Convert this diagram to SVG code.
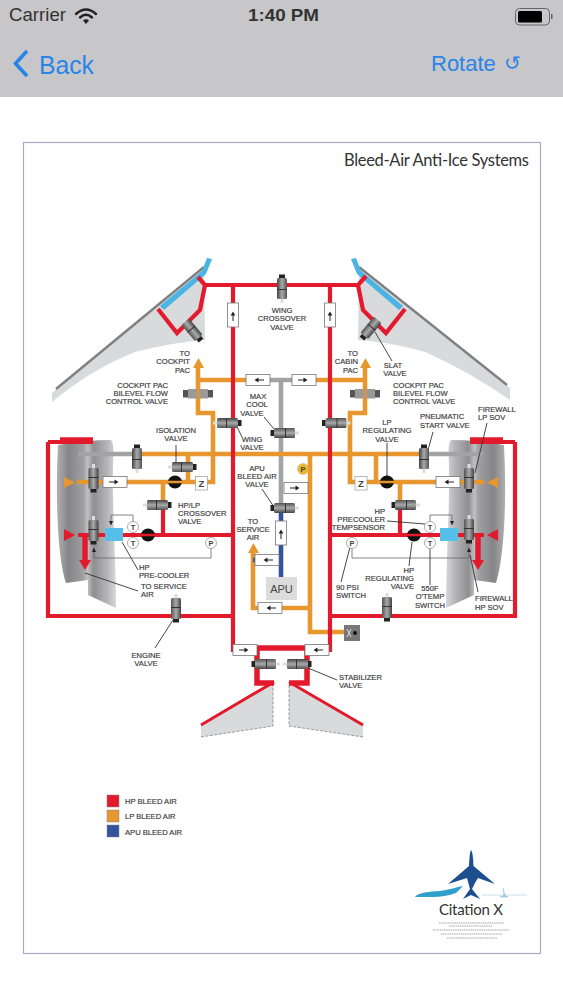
<svg xmlns="http://www.w3.org/2000/svg" xmlns:xlink="http://www.w3.org/1999/xlink" width="563" height="1000" viewBox="0 0 563 1000">
<style>
text{font-family:"Liberation Sans",Arial,sans-serif}
.l{font-size:7.6px;fill:#3c3c3c;stroke:#3c3c3c;stroke-width:.18}
.m{text-anchor:middle}.e{text-anchor:end}
.p{fill:none;stroke-linejoin:miter}
.r{stroke:#e21a2c;stroke-width:4.2}
.R{stroke:#e21a2c;stroke-width:5.5}
.o{stroke:#e8962e;stroke-width:4.6}
.g{stroke:#a3a3a5;stroke-width:4.6}
.b{stroke:#33539f;stroke-width:4.6}
.t{fill:none;stroke:#666;stroke-width:.8}
.ln{fill:none;stroke:#333;stroke-width:.9}
.ab{fill:#fff;stroke:#777;stroke-width:.8}
.circ{fill:#fff;stroke:#888;stroke-width:.7}
.wing{fill:#d9dadc}
</style>
<defs>
<linearGradient id="nac" x1="0" x2="1" y1="0" y2="0"><stop offset="0" stop-color="#b0b0b2"/><stop offset=".2" stop-color="#858587"/><stop offset=".45" stop-color="#a0a0a2"/><stop offset=".52" stop-color="#c0c0c2"/><stop offset=".62" stop-color="#8f8f91"/><stop offset=".85" stop-color="#b5b5b7"/><stop offset="1" stop-color="#d8d8d9"/></linearGradient>
<linearGradient id="nacr" x1="1" x2="0" y1="0" y2="0"><stop offset="0" stop-color="#b0b0b2"/><stop offset=".2" stop-color="#858587"/><stop offset=".45" stop-color="#a0a0a2"/><stop offset=".52" stop-color="#c0c0c2"/><stop offset=".62" stop-color="#8f8f91"/><stop offset=".85" stop-color="#b5b5b7"/><stop offset="1" stop-color="#d8d8d9"/></linearGradient>
<linearGradient id="vg" x1="0" x2="1" y1="0" y2="0"><stop offset="0" stop-color="#555"/><stop offset=".5" stop-color="#aaa"/><stop offset="1" stop-color="#444"/></linearGradient>
<g id="v">
<rect x="-1.5" y="-16" width="3" height="4" fill="#ddd"/>
<rect x="-5" y="-12" width="10" height="21" rx="1.5" fill="url(#vg)"/>
<rect x="-5" y="-3" width="10" height="1" fill="#333"/>
<rect x="-3" y="9" width="6" height="3.5" fill="#222"/>
</g>
<path id="au" d="M0 -3.5L-2.4 .5H-.5V6H.5V.5H2.4Z" fill="#222"/>
<g id="vbox"><rect class="ab" x="-5.500" y="-12" width="11" height="24"/><use xlink:href="#au"/></g>
<g id="hbox"><rect class="ab" x="-12" y="-5.500" width="24" height="11"/><use xlink:href="#au" transform="rotate(90)"/></g>
<g id="hboxl"><rect class="ab" x="-12" y="-5.500" width="24" height="11"/><use xlink:href="#au" transform="rotate(-90)"/></g>
</defs>

<g id="chrome">
<rect width="563" height="1000" fill="#fff"/>
<rect width="563" height="97" fill="#c7c6c8"/>
<text x="9" y="21" font-size="17.500" fill="#333" textLength="57" lengthAdjust="spacingAndGlyphs">Carrier</text>
<g fill="none" stroke="#222" stroke-linecap="round"><path d="M76 14Q86 5 96 14" stroke-width="2.400"/><path d="M80 17.500Q86 12 92 17.500" stroke-width="2.400"/></g><path d="M83 20.500Q86 18 89 20.500L86 24Z" fill="#222"/>
<text x="248" y="21" font-size="17" font-weight="700" fill="#333" textLength="71" lengthAdjust="spacingAndGlyphs">1:40 PM</text>
<rect x="515.500" y="8.500" width="34" height="16.500" rx="4" fill="none" stroke="#666"/><rect x="518" y="11" width="24" height="11.500" rx="1.500" fill="#000"/><rect x="551" y="14" width="1.500" height="5" fill="#666"/>
<path d="M27 51L15.500 63.500L27 76" fill="none" stroke="#2a84e8" stroke-width="3.600"/>
<text x="39" y="73.500" font-size="26" fill="#2a84e8" textLength="55" lengthAdjust="spacingAndGlyphs">Back</text>
<text x="431" y="71" font-size="22" fill="#2a84e8">Rotate</text>
<text x="504" y="70" font-size="20" fill="#2a84e8" style="font-family:'DejaVu Sans',sans-serif">↺</text>
<rect x="23.500" y="142.500" width="517" height="811" fill="#fff" stroke="#a9a9c6" stroke-width="1.200"/>
<text x="344" y="166" font-size="16.500" fill="#333" style="font-family:Lato,sans-serif" textLength="185">Bleed-Air Anti-Ice Systems</text>
</g>

<g id="wings">
<path class="wing" d="M204 267L52 393L52 402Q90 370 135 352Q175 342 205 340Z"/>
<path class="wing" d="M359 267L510 388L510 400Q470 372 425 352Q390 342 358 340Z"/>
<path d="M204 267L56 389" fill="none" stroke="#808082" stroke-width="2.400"/>
<path d="M359 267L507 385" fill="none" stroke="#808082" stroke-width="2.400"/>
<path class="wing" d="M201 725L273 682V726L201 737Z"/>
<path class="wing" d="M363 725L289 682V726L363 737Z"/>
<path d="M201 737L273 726V684M363 737L289 726V684" fill="none" stroke="#777" stroke-width=".7" stroke-dasharray="3 1.500"/>
<path d="M207 258L212 259L206 274L164 310L160 306L202 271Z" fill="#4ab4e4"/>
<path d="M356 258L351 259L357 274L399 310L403 306L361 271Z" fill="#4ab4e4"/>
</g>

<g id="nacelles">
<path d="M58 445C55 500 58 560 66 583L88 580V595L116 608C116 560 112 500 113 470C113 455 115 445 111 440Q85 440 58 445Z" fill="url(#nac)"/>
<path d="M504 445C507 500 504 560 496 583L474 580V595L446 608C446 560 450 500 449 470C449 455 447 445 451 440Q477 440 504 445Z" fill="url(#nacr)"/>
</g>

<g id="connectors" fill="none">
<path class="p r" d="M198 277L205 285L200 310L177 333L158 309"/>
<path class="p r" d="M366 276L358 285L363 310L386 333L405 309"/>
<path class="p g" d="M268 380H295M281 380V505"/>
<path class="p g" d="M78 454H137M424 454H483"/>
<path class="p o" d="M198 368V413H213V482H77"/>
<path class="p o" d="M365 368V413H350V482H484"/>
<path class="p o" d="M198 380H268M295 380H365"/>
<path class="p o" d="M137 454H424"/>
<path class="p o" d="M188 454V482M376 454V482M163 482V505M400 482V505"/>
<path class="p o" d="M310 454V632H345M310 488H296M310 608H253V553"/>
<path class="p b" d="M281 512V577M281 560H272M262 560H253"/>
<path class="p r" d="M233 285V650H257M330 285V650H306M203 285H358"/>
<path class="p r" d="M48 442V616H233M515 442V616H330"/>
<path class="p r" d="M48 442H93M515 442H470"/>
<path class="p R" d="M60 440H93M470 440H503"/>
<path class="p r" d="M163 510V535M400 510V535"/>
<path class="p r" d="M78 535H233M484 535H330"/>
<path class="p R" d="M85 535V562M478 535V562"/>
<path class="p R" d="M257 648H307M257 648V683H274M307 648V683H289"/>
<path class="p" stroke="#e21a2c" stroke-width="3" d="M201 725L274 682M363 725L289 682"/>
<path class="t" d="M133 523V515H111V522M94 549V558H211V548"/>
<path class="t" d="M430 523V515H452V522M469 549V558H352V548"/>
<path class="ln" d="M375 332L392 361M264 417L274 429M237 427L242 437M262 489L274 507M176 445V467M387 443V478M433 432L428 450M487 423L475 473"/>
<path class="ln" d="M155 648L173 620M387 521L425 524M350 547L341 582M412 542L409 566M430 547V585M470 555L478 592M122 542L138 570M85 573L138 591M308 668L337 680"/>
</g>

<g id="arrows">
<path d="M193 368h11l-5.500 -10zM360 368h11l-5.500 -10zM248 553h11l-5.500 -10z" fill="#e8962e"/>
<path d="M64 477V488L75 482.500ZM498 477V488L487 482.500Z" fill="#e8962e"/>
<path d="M64 529V541L75 535ZM498 529V541L487 535ZM79 560H91L85 570ZM472 560H484L478 570Z" fill="#e21a2c"/>
<path d="M109 521l2 4.500 2 -4.500zM450 521l2 4.500 2 -4.500zM92 552l2 -4.500 2 4.500zM467 552l2 -4.500 2 4.500z" fill="#222"/>
</g>

<g id="boxes">
<use xlink:href="#vbox" x="233" y="315"/><use xlink:href="#vbox" x="330" y="315"/>
<use xlink:href="#hboxl" x="258" y="380"/><use xlink:href="#hbox" x="304" y="380"/>
<use xlink:href="#hbox" x="115" y="482"/><use xlink:href="#hboxl" x="448" y="482"/>
<use xlink:href="#hbox" x="296" y="488"/><use xlink:href="#vbox" x="281" y="533"/>
<use xlink:href="#hboxl" x="267" y="560"/><use xlink:href="#hboxl" x="270" y="608"/>
<use xlink:href="#hbox" x="245" y="650"/><use xlink:href="#hboxl" x="317" y="650"/>
</g>

<g id="valve-wing-crossover"><use xlink:href="#v" transform="translate(282 287) rotate(180)"/></g>
<g id="valve-slat-l"><use xlink:href="#v" transform="translate(193 331) rotate(-40)"/></g>
<g id="valve-slat-r"><use xlink:href="#v" transform="translate(370 329) rotate(40)"/></g>
<g id="valve-bilevel-l"><rect x="183" y="390" width="30" height="7.500" fill="#555"/><rect x="188" y="389" width="20" height="9.500" fill="#999"/><rect x="196" y="389" width="4.600" height="9.500" fill="#e8962e" opacity=".55"/></g>
<g id="valve-bilevel-r"><rect x="350" y="390" width="30" height="7.500" fill="#555"/><rect x="355" y="389" width="20" height="9.500" fill="#999"/><rect x="362.700" y="389" width="4.600" height="9.500" fill="#e8962e" opacity=".55"/></g>
<g id="valve-wing-l"><use xlink:href="#v" transform="translate(229 423) rotate(-90)"/></g>
<g id="valve-wing-r"><use xlink:href="#v" transform="translate(334.500 423) rotate(90)"/></g>
<g id="valve-max-cool"><use xlink:href="#v" transform="translate(283 433) rotate(90)"/></g>
<g id="valve-apu"><use xlink:href="#v" transform="translate(283 508) rotate(90)"/></g>
<g id="valve-start-l"><use xlink:href="#v" transform="translate(137 457) rotate(180)"/></g>
<g id="valve-start-r"><use xlink:href="#v" transform="translate(424 457) rotate(180)"/></g>
<g id="valve-lp-l"><use xlink:href="#v" transform="translate(93.500 480)"/></g>
<g id="valve-hp-l"><use xlink:href="#v" transform="translate(93.500 532)"/></g>
<g id="valve-lp-r"><use xlink:href="#v" transform="translate(469 480)"/></g>
<g id="valve-hp-r"><use xlink:href="#v" transform="translate(469 531)"/></g>
<g id="valve-engine-l"><use xlink:href="#v" transform="translate(176 610)"/></g>
<g id="valve-engine-r"><use xlink:href="#v" transform="translate(387 609)"/></g>
<g id="valve-cross-l"><use xlink:href="#v" transform="translate(159 505) rotate(-90)"/></g>
<g id="valve-cross-r"><use xlink:href="#v" transform="translate(404 505) rotate(90)"/></g>
<g id="valve-iso"><use xlink:href="#v" transform="translate(184 467) rotate(-90)"/></g>
<g id="valve-stab-l"><use xlink:href="#v" transform="translate(264 664) rotate(90)"/></g>
<g id="valve-stab-r"><use xlink:href="#v" transform="translate(299 664) rotate(-90)"/></g>

<g id="regulators" fill="#111">
<ellipse cx="175" cy="482" rx="7" ry="6.500"/><ellipse cx="387" cy="482" rx="7" ry="6.500"/>
<ellipse cx="148" cy="535" rx="7" ry="6.500"/><ellipse cx="414" cy="535" rx="7" ry="6.500"/>
<path d="M168 482h14M380 482h14" stroke="#e8962e" stroke-width="2.500"/>
<path d="M141 535h14M407 535h14" stroke="#e21a2c" stroke-width="2.500"/>
</g>
<g id="z-l"><rect x="195.500" y="476.500" width="12" height="13.500" fill="#fff" stroke="#999" stroke-width=".7"/><text x="201.500" y="487" font-size="9.500" font-weight="700" fill="#444" class="m">Z</text></g>
<g id="z-r"><rect x="355" y="476.500" width="12" height="13.500" fill="#fff" stroke="#999" stroke-width=".7"/><text x="361" y="487" font-size="9.500" font-weight="700" fill="#444" class="m">Z</text></g>
<g id="precooler-l"><rect x="105" y="528" width="18" height="13" fill="#55bfe9"/></g>
<g id="precooler-r"><rect x="440" y="528" width="18" height="13" fill="#55bfe9"/></g>
<g id="sens" font-size="7.500" font-weight="700" fill="#444" text-anchor="middle">
<circle class="circ" cx="133" cy="527" r="5.500"/><text x="133" y="530">T</text>
<circle class="circ" cx="133" cy="543" r="5.500"/><text x="133" y="546">T</text>
<circle class="circ" cx="211" cy="543" r="5.500"/><text x="211" y="546">P</text>
<circle class="circ" cx="430" cy="527" r="5.500"/><text x="430" y="530">T</text>
<circle class="circ" cx="430" cy="543" r="5.500"/><text x="430" y="546">T</text>
<circle class="circ" cx="352" cy="543" r="5.500"/><text x="352" y="546">P</text>
<circle cx="303" cy="469" r="5.500" fill="#e9b92a" stroke="#caa" stroke-width=".5"/><text x="303" y="472">P</text>
</g>
<g id="apu"><rect x="266" y="577" width="31" height="23" fill="#dcdcdc"/><text x="281.500" y="592.500" font-size="11" fill="#444" class="m">APU</text></g>
<g id="stab-box"><rect x="344" y="625" width="16" height="16" fill="#777"/><circle cx="355" cy="633" r="2" fill="#111"/><path d="M347 629l4 8M351 629l-4 8" stroke="#ddd" stroke-width="1"/></g>

<g id="labels">
<text class="l m" x="282" y="313">WING</text><text class="l m" x="282" y="321">CROSSOVER</text><text class="l m" x="282" y="329.500">VALVE</text>
<text class="l e" x="190" y="355.500">TO</text><text class="l e" x="190" y="364">COCKPIT</text><text class="l e" x="190" y="372.500">PAC</text>
<text class="l e" x="358" y="355.500">TO</text><text class="l e" x="358" y="364">CABIN</text><text class="l e" x="358" y="372.500">PAC</text>
<text class="l m" x="393" y="367.500">SLAT</text><text class="l m" x="395" y="375.500">VALVE</text>
<text class="l e" x="168" y="387.500">COCKPIT PAC</text><text class="l e" x="168" y="395.500">BILEVEL FLOW</text><text class="l e" x="168" y="403.500">CONTROL VALVE</text>
<text class="l" x="393" y="387.500">COCKPIT PAC</text><text class="l" x="393" y="395.500">BILEVEL FLOW</text><text class="l" x="393" y="403.500">CONTROL VALVE</text>
<text class="l m" x="176" y="432.500">ISOLATION</text><text class="l m" x="176" y="440.500">VALVE</text>
<text class="l m" x="258" y="398.500">MAX</text><text class="l m" x="257" y="407">COOL</text><text class="l m" x="252" y="415.500">VALVE</text>
<text class="l m" x="252" y="442">WING</text><text class="l m" x="252" y="450">VALVE</text>
<text class="l m" x="257" y="470.500">APU</text><text class="l m" x="257" y="478.500">BLEED AIR</text><text class="l m" x="257" y="487">VALVE</text>
<text class="l m" x="387" y="425">LP</text><text class="l m" x="387" y="433">REGULATING</text><text class="l m" x="387" y="441.500">VALVE</text>
<text class="l" x="420" y="419">PNEUMATIC</text><text class="l" x="420" y="427.500">START VALVE</text>
<text class="l" x="478" y="411.500">FIREWALL</text><text class="l" x="478" y="419.500">LP SOV</text>
<text class="l" x="178" y="507.500">HP/LP</text><text class="l" x="178" y="515.500">CROSSOVER</text><text class="l" x="178" y="524">VALVE</text>
<text class="l m" x="253" y="523.500">TO</text><text class="l m" x="253" y="531.500">SERVICE</text><text class="l m" x="253" y="540">AIR</text>
<text class="l" x="139" y="569.500">HP</text><text class="l" x="139" y="577.500">PRE-COOLER</text>
<text class="l" x="141" y="589">TO SERVICE</text><text class="l" x="141" y="597">AIR</text>
<text class="l m" x="146" y="657.500">ENGINE</text><text class="l m" x="146" y="666">VALVE</text>
<text class="l e" x="385" y="513.500">HP</text><text class="l e" x="385" y="521.500">PRECOOLER</text><text class="l e" x="385" y="530">TEMPSENSOR</text>
<text class="l" x="336" y="589.500">90 PSI</text><text class="l" x="336" y="597.500">SWITCH</text>
<text class="l e" x="414" y="572.500">HP</text><text class="l e" x="414" y="580.500">REGULATING</text><text class="l e" x="414" y="589">VALVE</text>
<text class="l m" x="430" y="591">550F</text><text class="l m" x="430" y="599">O'TEMP</text><text class="l m" x="430" y="608">SWITCH</text>
<text class="l" x="475" y="601">FIREWALL</text><text class="l" x="475" y="610">HP SOV</text>
<text class="l" x="339" y="680">STABILIZER</text><text class="l" x="339" y="688">VALVE</text>
</g>

<g id="legend">
<rect x="107" y="795" width="12" height="12" fill="#e21a2c" stroke="#888" stroke-width=".5"/><text class="l" x="125" y="804">HP BLEED AIR</text>
<rect x="107" y="810" width="12" height="12" fill="#e8962e" stroke="#888" stroke-width=".5"/><text class="l" x="125" y="819">LP BLEED AIR</text>
<rect x="107" y="825" width="12" height="12" fill="#33539f" stroke="#888" stroke-width=".5"/><text class="l" x="125" y="834.500">APU BLEED AIR</text>
</g>

<g id="logo">
<path d="M471 850Q473 852 473.500 866L495 884L478 878L475 883L472 889L480 899L471 895L463 899L470 889L467 878L448 884L469 866Q469.500 852 471 850Z" fill="#1d4f8f"/>
<path d="M415 897Q418 892 440 891Q452 889 458 887L463 886L456 893Q445 897 432 897Z" fill="#2f9fcb"/>
<path d="M482 895H527M503 888L504 895L500 897H508L505 895Z" fill="#8fc3d6" stroke="#a9cfdd" stroke-width=".6"/>
<text x="439" y="915" font-size="15" fill="#333" style="font-family:Lato,sans-serif" textLength="64">Citation X</text>
<path d="M439 923H504M449 926H492M433 930H509M441 934H502M447 938H497" stroke="#999" stroke-width=".9" stroke-dasharray="1.500 .7" fill="none"/>
</g>
</svg>
